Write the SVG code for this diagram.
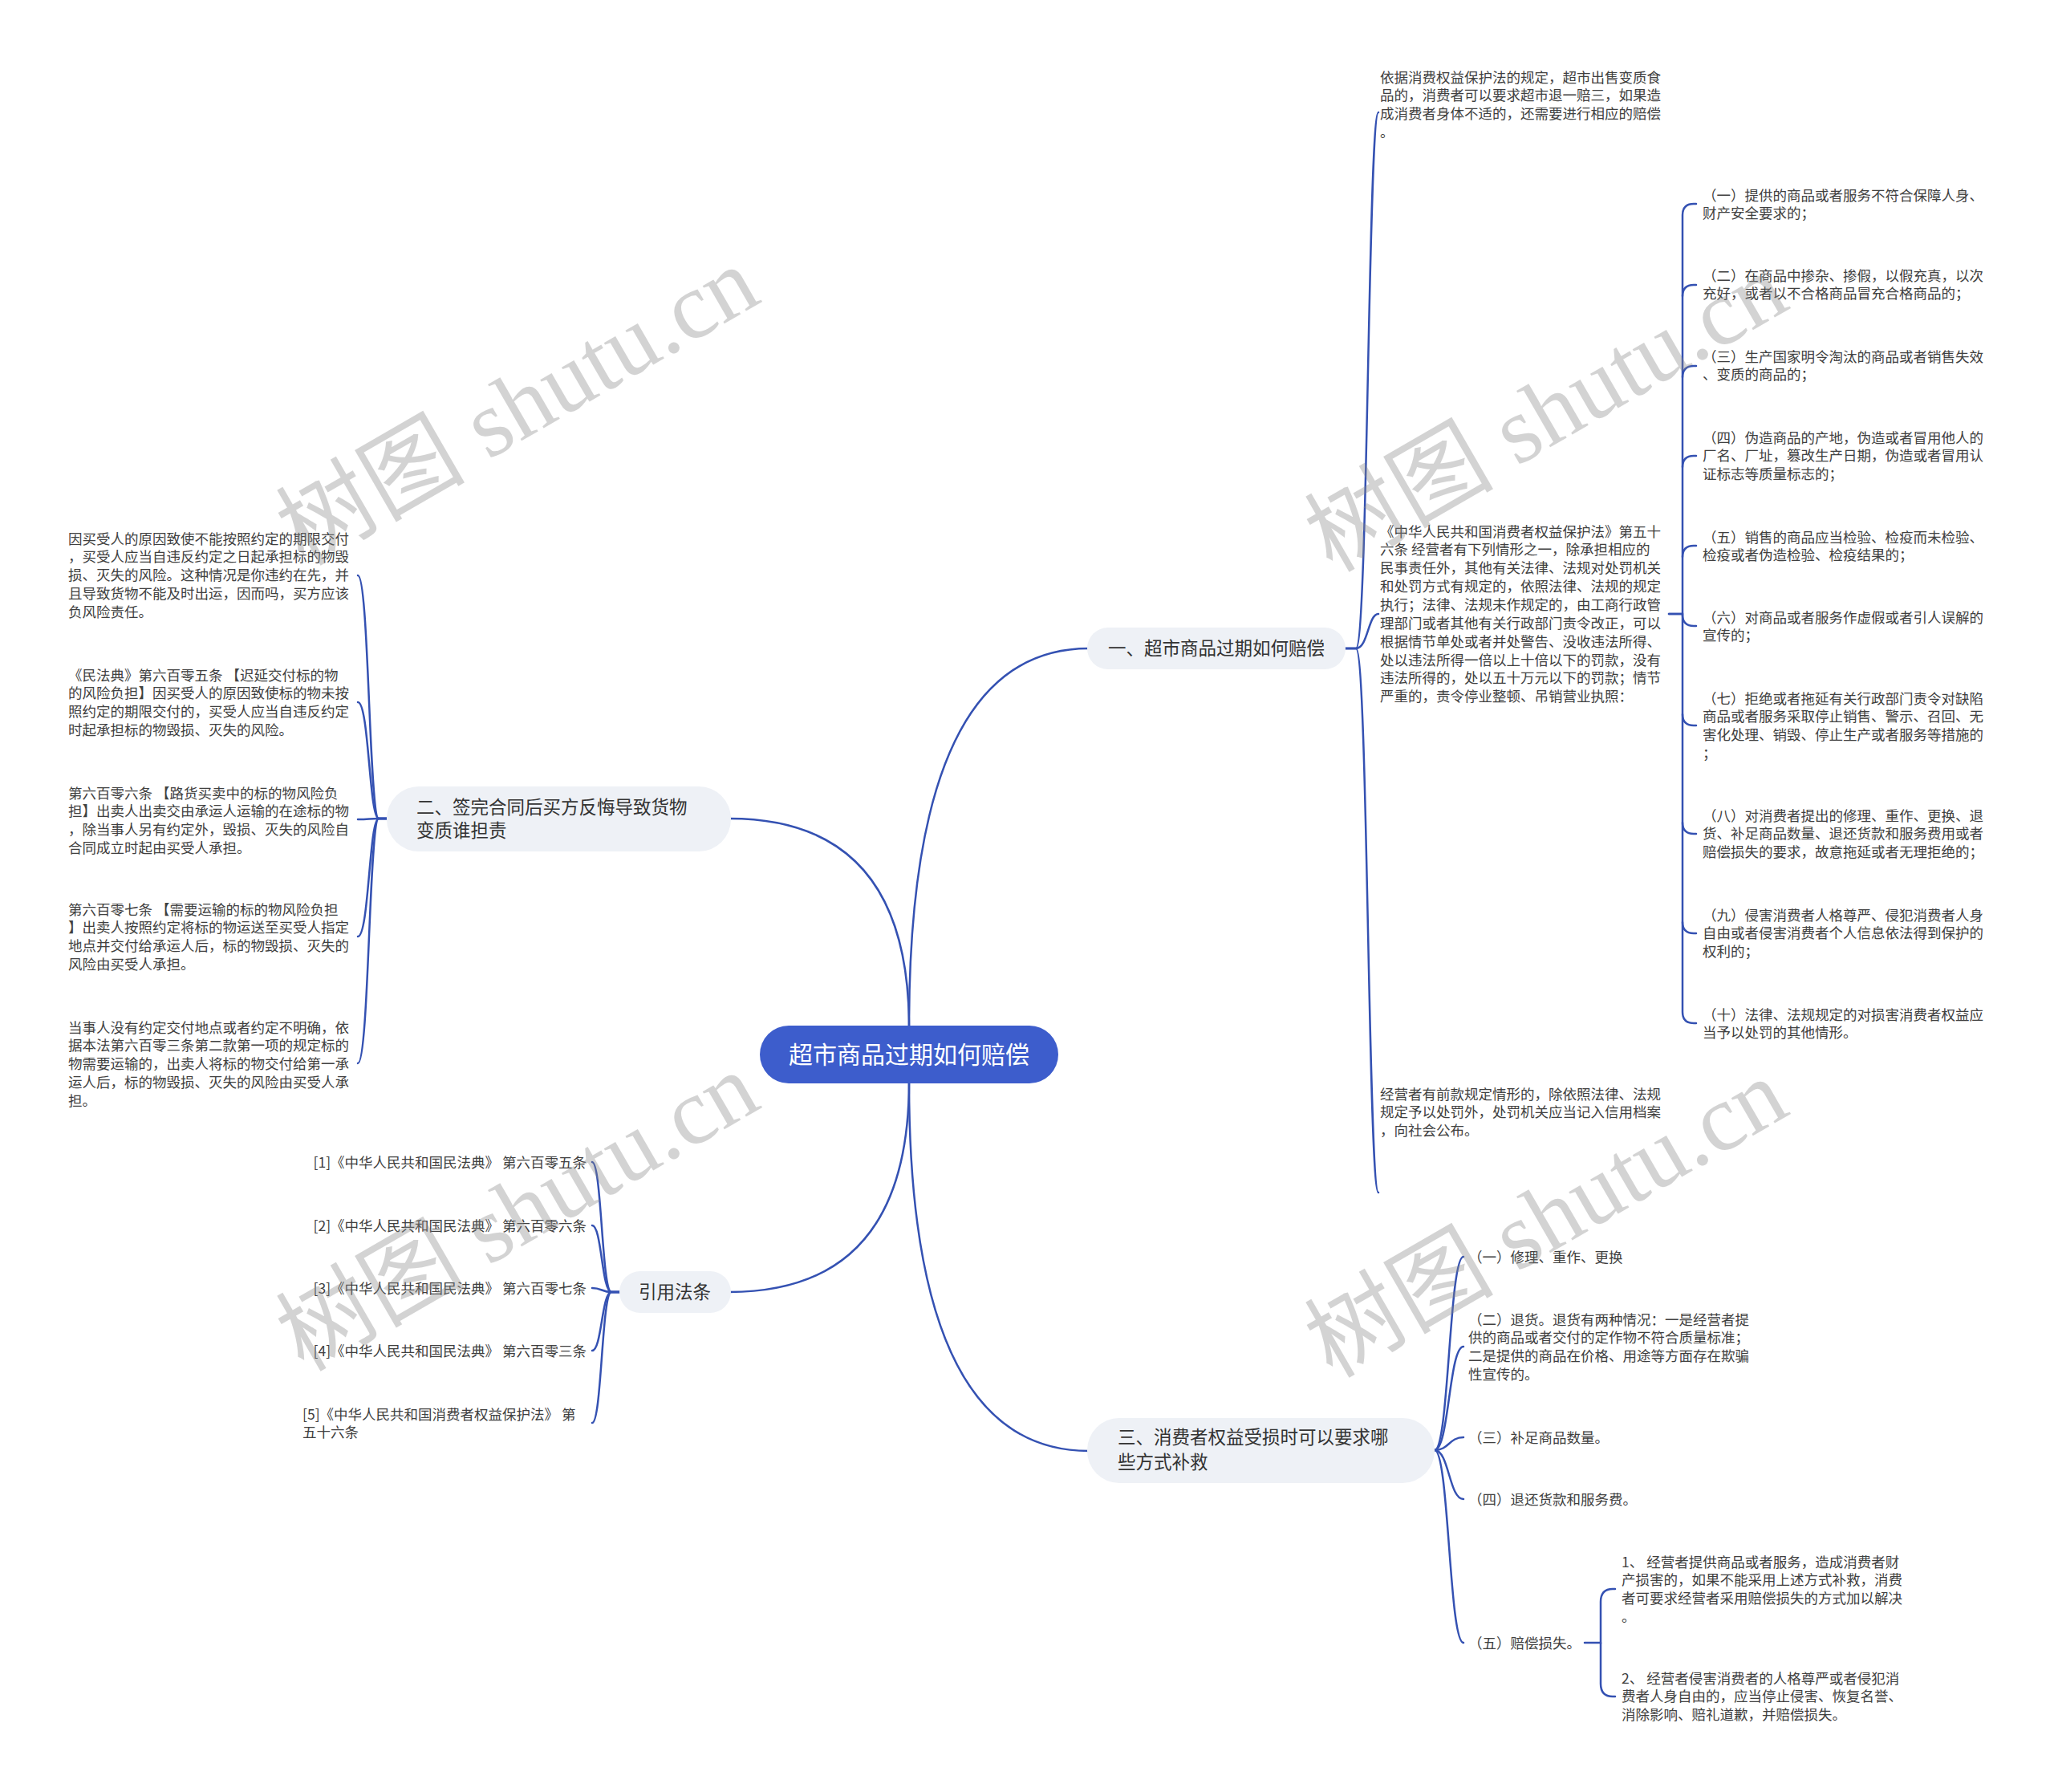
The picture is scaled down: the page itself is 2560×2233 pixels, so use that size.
<svg xmlns="http://www.w3.org/2000/svg" width="2560" height="2233" viewBox="0 0 2560 2233">
<style>
.t{font-family:"Noto Sans CJK SC","Liberation Sans",sans-serif;font-size:17.5px;fill:#404040}
.b{font-family:"Noto Sans CJK SC","Liberation Sans",sans-serif;font-size:22.5px;fill:#333}
.c{stroke:#3451b2;stroke-width:2.5;fill:none;stroke-linecap:round}
.n{fill:#eef1f6}
.wm{font-family:"Liberation Serif","Noto Sans CJK SC",serif;font-size:118px;fill:#888;opacity:0.36;text-anchor:middle}
</style>
<rect width="2560" height="2233" fill="#fff"/>
<g id="connectors">
<path class="c" d="M1133 1280 Q1133 808 1357 808"/>
<path class="c" d="M1133 1280 Q1133 1020 909 1020"/>
<path class="c" d="M1133 1348 Q1133 1610 909 1610"/>
<path class="c" d="M1133 1348 Q1133 1808 1357 1808"/>
<path class="c" d="M1677 808 H1690 C1705 808 1705 140 1718 140"/>
<path class="c" d="M1677 808 H1690 C1705 808 1705 765 1718 765"/>
<path class="c" d="M1677 808 H1690 C1705 808 1705 1486 1718 1486"/>
<path class="c" d="M2080 765 H2097 V268 Q2097 254 2111 254 H2114"/>
<path class="c" d="M2097 369 Q2097 355 2111 355 H2114"/>
<path class="c" d="M2097 470 Q2097 456 2111 456 H2114"/>
<path class="c" d="M2097 582 Q2097 568 2111 568 H2114"/>
<path class="c" d="M2097 694 Q2097 680 2111 680 H2114"/>
<path class="c" d="M2080 765 H2097 V1261 Q2097 1275 2111 1275 H2114"/>
<path class="c" d="M2097 766 Q2097 780 2111 780 H2114"/>
<path class="c" d="M2097 890 Q2097 904 2111 904 H2114"/>
<path class="c" d="M2097 1025 Q2097 1039 2111 1039 H2114"/>
<path class="c" d="M2097 1149 Q2097 1163 2111 1163 H2114"/>
<path class="c" d="M482 1020 H472 C460 1020 460 717 446 717"/>
<path class="c" d="M482 1020 H472 C460 1020 460 875 446 875"/>
<path class="c" d="M482 1020 H472 C460 1020 460 1021 446 1021"/>
<path class="c" d="M482 1020 H472 C460 1020 460 1167 446 1167"/>
<path class="c" d="M482 1020 H472 C460 1020 460 1325 446 1325"/>
<path class="c" d="M772 1610 H762 C750 1610 750 1448 738 1448"/>
<path class="c" d="M772 1610 H762 C750 1610 750 1527 738 1527"/>
<path class="c" d="M772 1610 H762 C750 1610 750 1605 738 1605"/>
<path class="c" d="M772 1610 H762 C750 1610 750 1683 738 1683"/>
<path class="c" d="M772 1610 H762 C750 1610 750 1773 738 1773"/>
<path class="c" d="M1788 1807 C1806 1807 1806 1566 1824 1566"/>
<path class="c" d="M1788 1807 C1806 1807 1806 1678 1824 1678"/>
<path class="c" d="M1788 1807 C1806 1807 1806 1791 1824 1791"/>
<path class="c" d="M1788 1807 C1806 1807 1806 1868 1824 1868"/>
<path class="c" d="M1788 1807 C1806 1807 1806 2047 1824 2047"/>
<path class="c" d="M1975 2047 H1995 V1996 Q1995 1980 2010 1980 H2013"/>
<path class="c" d="M1995 2047 V2098 Q1995 2114 2010 2114 H2013"/>
</g>
<g id="root">
<rect x="947" y="1278" width="372" height="72" rx="36" fill="#3d5dcc"/>
<text x="1133" y="1325" text-anchor="middle" style="font-family:'Noto Sans CJK SC',sans-serif;font-size:30px;fill:#fff">超市商品过期如何赔偿</text>
</g>
<g id="b1">
<rect class="n" x="1355" y="782" width="322" height="52" rx="26"/>
<text class="b" x="1516" y="816" text-anchor="middle">一、超市商品过期如何赔偿</text>
</g>
<g id="b2">
<rect class="n" x="482" y="980" width="429" height="81" rx="40"/>
<text class="b" x="519" y="1014">二、签完合同后买方反悔导致货物</text>
<text class="b" x="519" y="1043">变质谁担责</text>
</g>
<g id="b4">
<rect class="n" x="772" y="1584" width="139" height="52" rx="26"/>
<text class="b" x="841" y="1618" text-anchor="middle">引用法条</text>
</g>
<g id="b3">
<rect class="n" x="1355" y="1767" width="433" height="81" rx="40"/>
<text class="b" x="1393" y="1799">三、消费者权益受损时可以要求哪</text>
<text class="b" x="1393" y="1830">些方式补救</text>
</g>
<g id="b1a">
<text class="t" x="1720" y="102.5">依据消费权益保护法的规定，超市出售变质食</text>
<text class="t" x="1720" y="125.4">品的，消费者可以要求超市退一赔三，如果造</text>
<text class="t" x="1720" y="148.2">成消费者身体不适的，还需要进行相应的赔偿</text>
<text class="t" x="1720" y="171.1">。</text>
</g>
<g id="b1b">
<text class="t" x="1720" y="668.5">《中华人民共和国消费者权益保护法》第五十</text>
<text class="t" x="1720" y="691.4">六条 经营者有下列情形之一，除承担相应的</text>
<text class="t" x="1720" y="714.2">民事责任外，其他有关法律、法规对处罚机关</text>
<text class="t" x="1720" y="737.1">和处罚方式有规定的，依照法律、法规的规定</text>
<text class="t" x="1720" y="759.9">执行；法律、法规未作规定的，由工商行政管</text>
<text class="t" x="1720" y="782.8">理部门或者其他有关行政部门责令改正，可以</text>
<text class="t" x="1720" y="805.7">根据情节单处或者并处警告、没收违法所得、</text>
<text class="t" x="1720" y="828.5">处以违法所得一倍以上十倍以下的罚款，没有</text>
<text class="t" x="1720" y="851.4">违法所得的，处以五十万元以下的罚款；情节</text>
<text class="t" x="1720" y="874.2">严重的，责令停业整顿、吊销营业执照：</text>
</g>
<g id="b1c">
<text class="t" x="1720" y="1369.5">经营者有前款规定情形的，除依照法律、法规</text>
<text class="t" x="1720" y="1392.4">规定予以处罚外，处罚机关应当记入信用档案</text>
<text class="t" x="1720" y="1415.2">，向社会公布。</text>
</g>
<g id="r1">
<text class="t" x="2122" y="249.5">（一）提供的商品或者服务不符合保障人身、</text>
<text class="t" x="2122" y="272.4">财产安全要求的；</text>
</g>
<g id="r2">
<text class="t" x="2122" y="349.5">（二）在商品中掺杂、掺假，以假充真，以次</text>
<text class="t" x="2122" y="372.4">充好，或者以不合格商品冒充合格商品的；</text>
</g>
<g id="r3">
<text class="t" x="2122" y="450.5">（三）生产国家明令淘汰的商品或者销售失效</text>
<text class="t" x="2122" y="473.4">、变质的商品的；</text>
</g>
<g id="r4">
<text class="t" x="2122" y="551.5">（四）伪造商品的产地，伪造或者冒用他人的</text>
<text class="t" x="2122" y="574.4">厂名、厂址，篡改生产日期，伪造或者冒用认</text>
<text class="t" x="2122" y="597.2">证标志等质量标志的；</text>
</g>
<g id="r5">
<text class="t" x="2122" y="675.5">（五）销售的商品应当检验、检疫而未检验、</text>
<text class="t" x="2122" y="698.4">检疫或者伪造检验、检疫结果的；</text>
</g>
<g id="r6">
<text class="t" x="2122" y="775.5">（六）对商品或者服务作虚假或者引人误解的</text>
<text class="t" x="2122" y="798.4">宣传的；</text>
</g>
<g id="r7">
<text class="t" x="2122" y="876.5">（七）拒绝或者拖延有关行政部门责令对缺陷</text>
<text class="t" x="2122" y="899.4">商品或者服务采取停止销售、警示、召回、无</text>
<text class="t" x="2122" y="922.2">害化处理、销毁、停止生产或者服务等措施的</text>
<text class="t" x="2122" y="945.1">；</text>
</g>
<g id="r8">
<text class="t" x="2122" y="1022.5">（八）对消费者提出的修理、重作、更换、退</text>
<text class="t" x="2122" y="1045.4">货、补足商品数量、退还货款和服务费用或者</text>
<text class="t" x="2122" y="1068.2">赔偿损失的要求，故意拖延或者无理拒绝的；</text>
</g>
<g id="r9">
<text class="t" x="2122" y="1146.5">（九）侵害消费者人格尊严、侵犯消费者人身</text>
<text class="t" x="2122" y="1169.4">自由或者侵害消费者个人信息依法得到保护的</text>
<text class="t" x="2122" y="1192.2">权利的；</text>
</g>
<g id="r10">
<text class="t" x="2122" y="1270.5">（十）法律、法规规定的对损害消费者权益应</text>
<text class="t" x="2122" y="1293.4">当予以处罚的其他情形。</text>
</g>
<g id="l1">
<text class="t" x="85" y="677.5">因买受人的原因致使不能按照约定的期限交付</text>
<text class="t" x="85" y="700.4">，买受人应当自违反约定之日起承担标的物毁</text>
<text class="t" x="85" y="723.2">损、灭失的风险。这种情况是你违约在先，并</text>
<text class="t" x="85" y="746.1">且导致货物不能及时出运，因而吗，买方应该</text>
<text class="t" x="85" y="768.9">负风险责任。</text>
</g>
<g id="l2">
<text class="t" x="85" y="847.5">《民法典》第六百零五条 【迟延交付标的物</text>
<text class="t" x="85" y="870.4">的风险负担】因买受人的原因致使标的物未按</text>
<text class="t" x="85" y="893.2">照约定的期限交付的，买受人应当自违反约定</text>
<text class="t" x="85" y="916.1">时起承担标的物毁损、灭失的风险。</text>
</g>
<g id="l3">
<text class="t" x="85" y="994.5">第六百零六条 【路货买卖中的标的物风险负</text>
<text class="t" x="85" y="1017.4">担】出卖人出卖交由承运人运输的在途标的物</text>
<text class="t" x="85" y="1040.2">，除当事人另有约定外，毁损、灭失的风险自</text>
<text class="t" x="85" y="1063.1">合同成立时起由买受人承担。</text>
</g>
<g id="l4">
<text class="t" x="85" y="1139.5">第六百零七条 【需要运输的标的物风险负担</text>
<text class="t" x="85" y="1162.4">】出卖人按照约定将标的物运送至买受人指定</text>
<text class="t" x="85" y="1185.2">地点并交付给承运人后，标的物毁损、灭失的</text>
<text class="t" x="85" y="1208.1">风险由买受人承担。</text>
</g>
<g id="l5">
<text class="t" x="85" y="1286.5">当事人没有约定交付地点或者约定不明确，依</text>
<text class="t" x="85" y="1309.4">据本法第六百零三条第二款第一项的规定标的</text>
<text class="t" x="85" y="1332.2">物需要运输的，出卖人将标的物交付给第一承</text>
<text class="t" x="85" y="1355.1">运人后，标的物毁损、灭失的风险由买受人承</text>
<text class="t" x="85" y="1377.9">担。</text>
</g>
<g id="cite1"><text class="t" x="731" y="1454.5" text-anchor="end">[1]《中华人民共和国民法典》 第六百零五条</text></g>
<g id="cite2"><text class="t" x="731" y="1533.5" text-anchor="end">[2]《中华人民共和国民法典》 第六百零六条</text></g>
<g id="cite3"><text class="t" x="731" y="1611.5" text-anchor="end">[3]《中华人民共和国民法典》 第六百零七条</text></g>
<g id="cite4"><text class="t" x="731" y="1689.5" text-anchor="end">[4]《中华人民共和国民法典》 第六百零三条</text></g>
<g id="cite5">
<text class="t" x="377" y="1768.5">[5]《中华人民共和国消费者权益保护法》 第</text>
<text class="t" x="377" y="1791.4">五十六条</text>
</g>
<g id="s1"><text class="t" x="1830" y="1572.5">（一）修理、重作、更换</text></g>
<g id="s2">
<text class="t" x="1830" y="1650.5">（二）退货。退货有两种情况：一是经营者提</text>
<text class="t" x="1830" y="1673.4">供的商品或者交付的定作物不符合质量标准；</text>
<text class="t" x="1830" y="1696.2">二是提供的商品在价格、用途等方面存在欺骗</text>
<text class="t" x="1830" y="1719.1">性宣传的。</text>
</g>
<g id="s3"><text class="t" x="1830" y="1797.5">（三）补足商品数量。</text></g>
<g id="s4"><text class="t" x="1830" y="1874.5">（四）退还货款和服务费。</text></g>
<g id="s5"><text class="t" x="1830" y="2053.5">（五）赔偿损失。</text></g>
<g id="s5a">
<text class="t" x="2021" y="1952.5">1、 经营者提供商品或者服务，造成消费者财</text>
<text class="t" x="2021" y="1975.4">产损害的，如果不能采用上述方式补救，消费</text>
<text class="t" x="2021" y="1998.2">者可要求经营者采用赔偿损失的方式加以解决</text>
<text class="t" x="2021" y="2021.1">。</text>
</g>
<g id="s5b">
<text class="t" x="2021" y="2097.5">2、 经营者侵害消费者的人格尊严或者侵犯消</text>
<text class="t" x="2021" y="2120.4">费者人身自由的，应当停止侵害、恢复名誉、</text>
<text class="t" x="2021" y="2143.2">消除影响、赔礼道歉，并赔偿损失。</text>
</g>
<g id="watermarks">
<text class="wm" transform="translate(645 506) rotate(-30)" y="40">树图 shutu.cn</text>
<text class="wm" transform="translate(1927 514) rotate(-30)" y="40">树图 shutu.cn</text>
<text class="wm" transform="translate(645 1510) rotate(-30)" y="40">树图 shutu.cn</text>
<text class="wm" transform="translate(1927 1518) rotate(-30)" y="40">树图 shutu.cn</text>
</g>
</svg>
